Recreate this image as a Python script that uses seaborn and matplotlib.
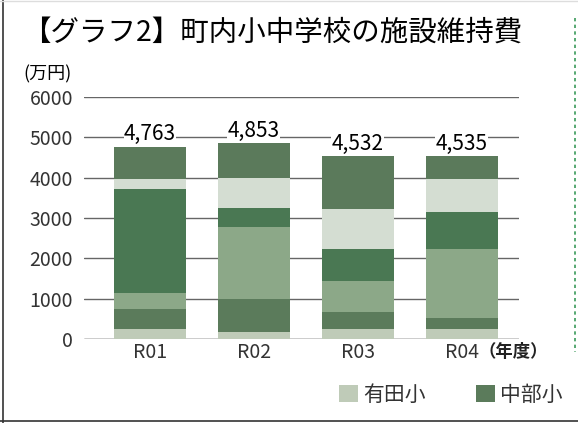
import matplotlib
matplotlib.use("Agg")
import numpy as np
import pandas as pd
import seaborn as sns
from matplotlib import pyplot as plt
from matplotlib.patches import Patch
from matplotlib.lines import Line2D

years = ["R01", "R02", "R03", "R04"]
series_names = ["有田小", "中部小", "系列3", "系列4", "系列5", "系列6"]
s1 = [243, 169, 246, 246]
s2 = [510, 818, 432, 280]
s3 = [394, 1790, 762, 1703]
s4 = [2570, 481, 788, 916]
s5 = [251, 743, 991, 814]
s6 = [795, 852, 1313, 576]
totals = [4763, 4853, 4532, 4535]
total_labels = ["4,763", "4,853", "4,532", "4,535"]
colors = ["#bfcbb8", "#5b7b5b", "#8ca888", "#4a7853", "#d4ddd2", "#5b7a5b"]

sns.set_style("white")
plt.rcParams["font.family"] = ["Noto Sans CJK JP", "DejaVu Sans"]

data = pd.DataFrame([s1, s2, s3, s4, s5, s6], index=series_names, columns=years).T
stacked = data.cumsum(axis=1)

fig = plt.figure(figsize=(5.78, 4.23), dpi=100)
ax = fig.add_axes([84 / 578, 1 - 339 / 423, 435 / 578, 242 / 423])

# gridlines behind bars
for v in range(0, 7000, 1000):
    ax.axhline(v, color="#000000" if v == 0 else "#666666", lw=1, zorder=0)

# draw cumulative totals from top layer down so each layer overlays the next
for name, col in reversed(list(zip(series_names, colors))):
    sns.barplot(x=years, y=stacked[name].values, color=col, width=0.69,
                linewidth=0, saturation=1, ax=ax, zorder=2)

for i, (t, lab) in enumerate(zip(totals, total_labels)):
    ax.text(i, t + 40, lab, ha="center", va="bottom", fontsize=15, color="#000000",
            bbox=dict(facecolor="white", edgecolor="none", pad=0.3), zorder=3)

ax.set_ylim(0, 6000)
ax.set_xlim(-0.635, 3.55)
ax.set_yticks(range(0, 7000, 1000))
ax.tick_params(axis="both", length=0, labelsize=14, colors="#333333", pad=8)
ax.tick_params(axis="x", pad=2)
for sp in ax.spines.values():
    sp.set_visible(False)
ax.set_xlabel("")
ax.set_ylabel("")

fig.text(22 / 578, 1 - 33 / 423, "【グラフ2】町内小中学校の施設維持費", fontsize=20.5,
         va="center", ha="left", color="#000000")
fig.text(23 / 578, 1 - 74 / 423, "(万円)", fontsize=13, va="center", ha="left",
         color="#000000")
fig.text(479 / 578, 1 - 352 / 423, "（年度）", fontsize=12.5, va="center", ha="left",
         color="#222222", fontweight="bold")

handles = [Patch(facecolor=colors[0], edgecolor="none"),
           Patch(facecolor=colors[1], edgecolor="none")]
fig.legend(handles, series_names[:2], loc="center", bbox_to_anchor=(451 / 578, 1 - 395 / 423),
           ncol=2, frameon=False, fontsize=15, handlelength=0.9, handleheight=0.9,
           handletextpad=0.25, columnspacing=2.4, labelcolor="#333333")

# frame around the figure
fig.add_artist(Line2D([3 / 578, 3 / 578], [0, 1], transform=fig.transFigure, color="#333333", lw=1.2))
fig.add_artist(Line2D([0, 1], [2 / 423, 2 / 423], transform=fig.transFigure, color="#333333", lw=1.2))
fig.add_artist(Line2D([0, 1], [1 - 1 / 423, 1 - 1 / 423], transform=fig.transFigure, color="#dddddd", lw=1))
fig.add_artist(Line2D([575 / 578, 575 / 578], [1 - 18 / 423, 1 - 352 / 423], transform=fig.transFigure,
                      color="#3a9a5a", lw=1.2, ls=(0, (2, 2))))

fig.savefig("out.png", dpi=100)
